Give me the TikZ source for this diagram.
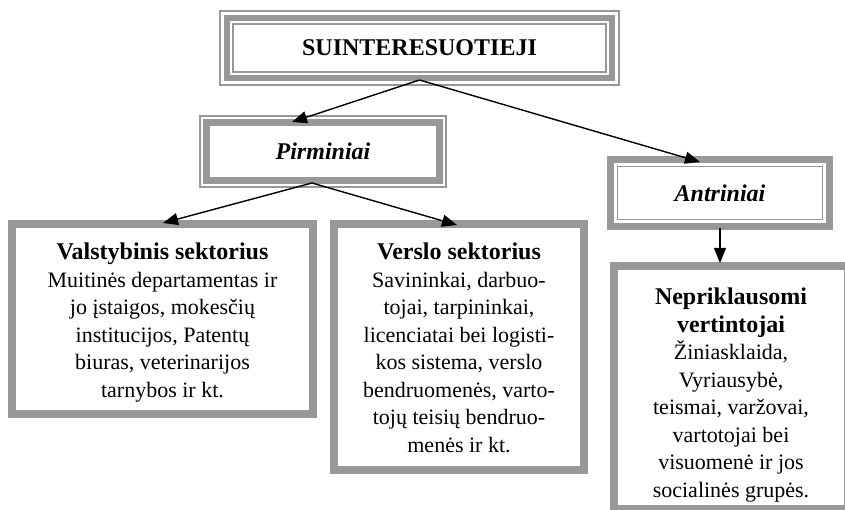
\documentclass[tikz,border=0pt]{standalone}
\usepackage{fontspec}
\setmainfont{Liberation Serif}
\usetikzlibrary{arrows.meta}
\definecolor{framegray}{RGB}{152,152,152}

% one ruled line of a frame: node, inset from the outer edge, line width
\newcommand{\frameline}[3]{%
  \draw[draw=framegray,line width=#3pt]
    ([shift={(#2,#2)}]#1.north west) rectangle ([shift={(-#2,-#2)}]#1.south east);}
% bold first lines of the sector boxes
\newcommand{\lead}[1]{\textbf{\fontsize{24}{27.5}\selectfont #1}}

\begin{document}
\begin{tikzpicture}[x=1pt,y=-1pt,
  box/.style={rectangle,draw=none,inner sep=0pt,outer sep=0pt,align=center},
  bodytext/.style={font=\fontsize{22}{27.5}\selectfont,align=center,inner sep=0pt,anchor=north},
  headtext/.style={font=\bfseries\fontsize{24}{27}\selectfont},
  subhead/.style={font=\bfseries\itshape\fontsize{24}{27}\selectfont},
  conn/.style={line width=1.4pt,-{Triangle[length=15pt,width=12pt]}}]
\useasboundingbox (0,0) rectangle (845,510);
\clip (0,0) rectangle (845,510);

% boxes
\node[box,minimum width=401pt,minimum height=76pt,headtext] (top) at (419.5,48) {SUINTERESUOTIEJI};
\node[box,minimum width=248pt,minimum height=73pt,subhead] (pirm) at (323,151.5) {Pirminiai};
\node[box,minimum width=226pt,minimum height=74pt,subhead] (antr) at (720,193) {Antriniai};
\node[box,minimum width=309pt,minimum height=198pt] (valst) at (162.5,319) {};
\node[box,minimum width=258pt,minimum height=254pt] (versl) at (459,347) {};
\node[box,minimum width=242pt,minimum height=251pt] (nepr) at (731,387.5) {};

% frames
\frameline{top}{1}{1.6}
\frameline{top}{8}{5.5}
\frameline{top}{13.8}{1.6}
\frameline{pirm}{0.9}{1.6}
\frameline{pirm}{7.8}{7}
\frameline{antr}{3.6}{7.2}
\frameline{antr}{10.6}{1.6}
\frameline{valst}{3.8}{7.6}
\frameline{versl}{3.8}{7.6}
\frameline{nepr}{3.8}{7.6}

% texts of the sector boxes
\node[bodytext] (valsttext) at (162.5,243) {\lead{Valstybinis sektorius}\\
  Muitinės departamentas ir\\ jo įstaigos, mokesčių\\ institucijos, Patentų\\
  biuras, veterinarijos\\ tarnybos ir kt.};
\node[bodytext] (versltext) at (459,243) {\lead{Verslo sektorius}\\
  Savininkai, darbuo-\\ tojai, tarpininkai,\\ licenciatai bei logisti-\\
  kos sistema, verslo\\ bendruomenės, varto-\\ tojų teisių bendruo-\\ menės ir kt.};
\node[bodytext] (neprtext) at (731,288) {\lead{Nepriklausomi}\\
  \lead{vertintojai}\\ Žiniasklaida,\\ Vyriausybė,\\
  teismai, varžovai,\\ vartotojai bei\\ visuomenė ir jos\\ socialinės grupės.};

% connector ends
\coordinate (topfoot) at ([yshift=6pt]top.south);
\coordinate (pirmin) at (292,122);
\coordinate (antrin) at (700,162);
\coordinate (pirmfoot) at (312,183);
\coordinate (valstin) at (163,223);
\coordinate (verslin) at (457,225);
\coordinate (antrfoot) at (720,228);
\coordinate (neprin) at (720,263);

% connectors
\draw[conn] (topfoot) -- (pirmin);
\draw[conn] (topfoot) -- (antrin);
\draw[conn] (pirmfoot) -- (valstin);
\draw[conn] (pirmfoot) -- (verslin);
\draw[conn] (antrfoot) -- (neprin);
\end{tikzpicture}
\end{document}
